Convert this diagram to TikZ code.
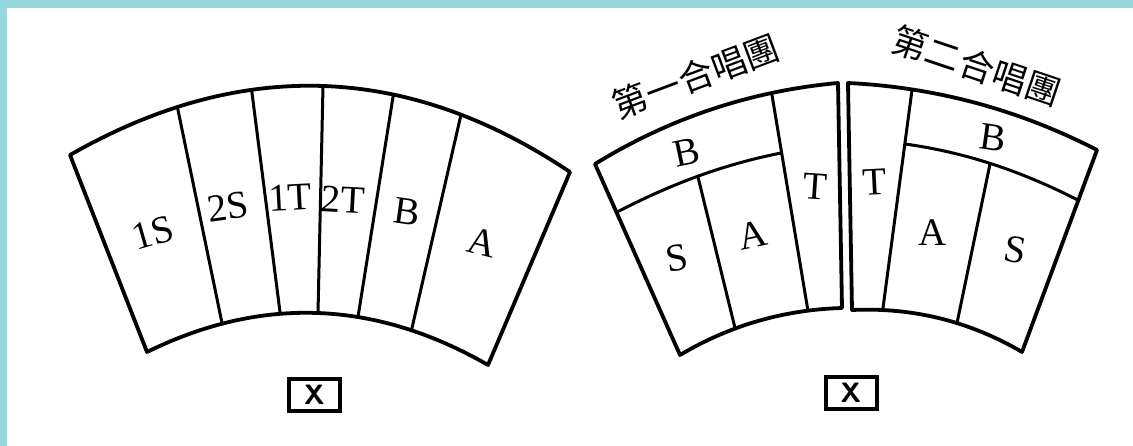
\documentclass[tikz,border=0pt]{standalone}
\usepackage{fontspec}
\newfontfamily\cjk{Noto Sans CJK TC}
\newfontfamily\partfont{Liberation Serif}
\usetikzlibrary{positioning}
\definecolor{edgecyan}{RGB}{150,216,222}

\begin{document}
\begin{tikzpicture}[x=1pt, y=-1pt,
    rim/.style={line width=3.8pt, line join=round},
    part/.style={line width=3pt},
    voice/.style={font=\partfont\fontsize{39}{39}\selectfont, inner sep=0pt},
    choir/.style={font=\cjk\fontsize{35}{35}\selectfont, inner sep=0pt},
    xbox/.style={draw, line width=4pt, minimum width=51pt, minimum height=32pt, inner sep=0pt, font=\sffamily\bfseries\fontsize{28}{28}\selectfont}]
    \useasboundingbox (0,0) rectangle (1133,446);
    \fill[edgecyan] (0,0) rectangle (1133,8);
    \fill[edgecyan] (0,0) rectangle (7,446);

    % one choir
    \coordinate (ltl) at (70,155);
    \coordinate (ltr) at (570,172);
    \coordinate (lbr) at (488,365);
    \coordinate (lbl) at (147,352);
    \begin{scope}
      \clip (ltl) .. controls (240.7,57.3) and (407.3,63) .. (ltr) -- (lbr) .. controls (375,300) and (261.3,295.7) .. (lbl) -- cycle;
      \draw[part, shorten <=-12pt, shorten >=-12pt] (178,110) -- (222,323);
      \draw[part, shorten <=-12pt, shorten >=-12pt] (252,93) -- (280,312);
      \draw[part, shorten <=-12pt, shorten >=-12pt] (323,86) -- (318,313);
      \draw[part, shorten <=-12pt, shorten >=-12pt] (393,97) -- (358,317);
      \draw[part, shorten <=-12pt, shorten >=-12pt] (460,119) -- (412,328);
    \end{scope}
    \draw[rim] (ltl) .. controls (240.7,57.3) and (407.3,63) .. (ltr) -- (lbr) .. controls (375,300) and (261.3,295.7) .. (lbl) -- cycle;
    \node[voice, rotate=16] (s1) at (153,233) {1S};
    \node[voice, rotate=8] (s2) at (228,207) {2S};
    \node[voice, rotate=3] (t1) at (290,198) {1T};
    \node[voice, rotate=-3] (t2) at (343,200) {2T};
    \node[voice, rotate=-8] (bass) at (407,212) {B};
    \node[voice, rotate=-14] (alto) at (482,242) {A};
    \node[xbox] (xleft) at (314.5,395) {X};

    % two choirs
    \coordinate (atl) at (595,164);
    \coordinate (atr) at (838,83);
    \coordinate (abr) at (842,308);
    \coordinate (abl) at (680,355);
    \begin{scope}
      \clip (atl) .. controls (669.7,118) and (750.7,91) .. (atr) -- (abr) .. controls (784,309.7) and (730,325.3) .. (abl) -- cycle;
      \draw[part, shorten <=-12pt, shorten >=-12pt] (772,95) -- (808,311);
      \draw[part, shorten <=-12pt] (617,212) .. controls (668.7,184.2) and (723.4,164.5) .. (781,153);
      \draw[part, shorten >=-12pt] (698,177) -- (735,328);
    \end{scope}
    \draw[rim] (atl) .. controls (669.7,118) and (750.7,91) .. (atr) -- (abr) .. controls (784,309.7) and (730,325.3) .. (abl) -- cycle;
    \node[voice, rotate=12] (firstB) at (687,152) {B};
    \node[voice, rotate=-4] (firstT) at (815,187) {T};
    \node[voice, rotate=12] (firstA) at (753,235) {A};
    \node[voice, rotate=10] (firstS) at (677,258) {S};
    \node[choir, rotate=20.6] (first) at (696,76) {第一合唱團};

    \coordinate (btl) at (848,83);
    \coordinate (btr) at (1097,150);
    \coordinate (bbr) at (1022,352);
    \coordinate (bbl) at (852,310);
    \begin{scope}
      \clip (btl) .. controls (935.8,87.3) and (1018.8,109.7) .. (btr) -- (bbr) .. controls (969.5,321.2) and (912.8,307.2) .. (bbl) -- cycle;
      \draw[part, shorten <=-12pt, shorten >=-12pt] (912,90) -- (883,308);
      \draw[part, shorten >=-12pt] (905,144) .. controls (966,152.5) and (1023.6,171.2) .. (1078,200);
      \draw[part, shorten >=-12pt] (990,164) -- (957,323);
    \end{scope}
    \draw[rim] (btl) .. controls (935.8,87.3) and (1018.8,109.7) .. (btr) -- (bbr) .. controls (969.5,321.2) and (912.8,307.2) .. (bbl) -- cycle;
    \node[voice, rotate=3] (secondT) at (875,182) {T};
    \node[voice, rotate=-8] (secondB) at (993,138) {B};
    \node[voice] (secondA) at (933,233) {A};
    \node[voice, rotate=-10] (secondS) at (1015,250) {S};
    \node[choir, rotate=-18.6] (second) at (977,66) {第二合唱團};
    \node[xbox] (xright) at (851,393) {X};
\end{tikzpicture}
\end{document}
